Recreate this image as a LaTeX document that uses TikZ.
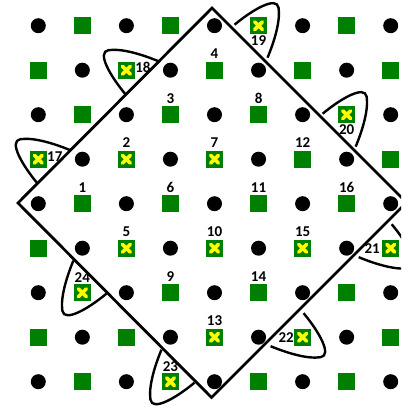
\documentclass[tikz,border=0pt]{standalone}
\usepackage{fontspec}
\setmainfont{Carlito}
\usetikzlibrary{positioning}
\definecolor{SiteGreen}{HTML}{008000}
\definecolor{MarkYellow}{HTML}{FFFF00}
\colorlet{DotInk}{black}
\colorlet{EdgeInk}{black}
\tikzset{
  SiteDot/.style={circle, fill=DotInk, inner sep=0pt, minimum size=15pt},
  SiteSquare/.style={rectangle, fill=SiteGreen, inner sep=0pt, minimum size=17pt},
  SiteLabel/.style={font=\fontsize{15}{17}\selectfont\bfseries, inner sep=0pt},
  CellEdge/.style={EdgeInk, line width=2.8pt, line join=miter},
  LobeLine/.style={EdgeInk, line width=2.4pt},
  pics/lobe/.style={code={
      \draw[LobeLine] (-1,24) .. controls (-16,6) and (-30,-18) .. (-18,-20)
        .. controls (-5,-22) and (15,-16) .. (32,-9);
    }},
  pics/cross/.style={code={
      \draw[MarkYellow, line width=3.6pt, line cap=round]
        (-3.9,-3.9) -- (3.9,3.9) (-3.9,3.9) -- (3.9,-3.9);
    }}
}

\begin{document}
\begin{tikzpicture}[x=1pt, y=-1pt]
  \useasboundingbox (0,0) rectangle (401,406);
  \clip (0,0) rectangle (401,406);
  \def\Ox{38.3}
  \def\Oy{25.7}
  \def\Dx{44.05}
  \def\Dy{44.5}

  % lattice of sites
  \foreach \i in {0,...,8}
    \foreach \j in {0,...,8} {
      \pgfmathtruncatemacro{\parity}{mod(\i+\j,2)}
      \ifnum\parity=0
        \node[SiteDot] (p-\i-\j) at ({\Ox+\Dx*\i},{\Oy+\Dy*\j}) {};
      \else
        \node[SiteSquare] (p-\i-\j) at ({\Ox+\Dx*\i},{\Oy+\Dy*\j}) {};
      \fi
    }

  % marked sites
  \foreach \i/\j in {2/3,2/5,4/3,4/5,4/7,6/5,0/3,2/1,5/0,7/2,8/5,6/7,3/8,1/6}
    \pic at (p-\i-\j) {cross};

  % labels inside the cell
  \foreach \n/\i/\j in {1/1/4,2/2/3,3/3/2,4/4/1,5/2/5,6/3/4,7/4/3,8/5/2,
                        9/3/6,10/4/5,11/5/4,12/6/3,13/4/7,14/5/6,15/6/5,16/7/4}
    \node[SiteLabel, above=2.5pt of p-\i-\j] (l-\n) {\n};

  % labels of the images outside
  \node[SiteLabel, right=0pt of p-0-3, yshift=3pt] (l-17) {17};
  \node[SiteLabel, right=0pt of p-2-1, yshift=3pt] (l-18) {18};
  \node[SiteLabel, below=1.5pt of p-5-0] (l-19) {19};
  \node[SiteLabel, below=1.5pt of p-7-2] (l-20) {20};
  \node[SiteLabel, left=2pt of p-8-5] (l-21) {21};
  \node[SiteLabel, left=0pt of p-6-7] (l-22) {22};
  \node[SiteLabel, above=1.5pt of p-3-8] (l-23) {23};
  \node[SiteLabel, above=1.5pt of p-1-6] (l-24) {24};

  % cell boundary
  \coordinate (W) at (18,203);
  \coordinate (N) at (212,8);
  \coordinate (E) at (406.5,202.5);
  \coordinate (S) at (211.5,397.5);
  \draw[CellEdge] (W) -- (N) -- (E) -- (S) -- cycle;

  % lobes on the boundary
  \pic at (p-0-3) {lobe};
  \pic at (p-2-1) {lobe};
  \pic[rotate=-90] at (p-5-0) {lobe};
  \pic[rotate=-90] at (p-7-2) {lobe};
  \pic[rotate=180] at (p-8-5) {lobe};
  \pic[rotate=180] at (p-6-7) {lobe};
  \pic[rotate=90] at (p-3-8) {lobe};
  \pic[rotate=90] at (p-1-6) {lobe};
\end{tikzpicture}
\end{document}
